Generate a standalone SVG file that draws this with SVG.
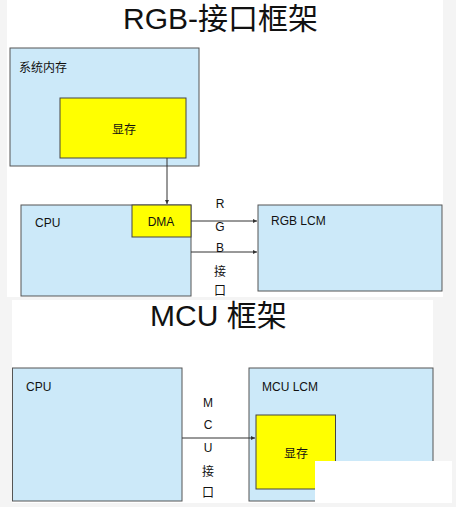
<svg xmlns="http://www.w3.org/2000/svg" width="456" height="507" viewBox="0 0 456 507">
<defs>
<marker id="ah" viewBox="0 0 6 6" refX="6" refY="3" markerWidth="4" markerHeight="4" orient="auto" markerUnits="userSpaceOnUse">
<path d="M0,0 L6,3 L0,6 z" fill="#333"/>
</marker>
<style>
.box{fill:#cce9f9;stroke:#555;stroke-width:1}
.mem{fill:#ffff00;stroke:#444;stroke-width:1}
.t{font-family:"Liberation Sans","Noto Sans CJK SC",sans-serif;font-size:12px;fill:#111}
.title{font-family:"Liberation Sans","Noto Sans CJK SC",sans-serif;font-size:30px;fill:#111}
.c{text-anchor:middle}
.ln{stroke:#333;stroke-width:1;fill:none;marker-end:url(#ah)}
</style>
</defs>
<rect x="0" y="0" width="456" height="507" fill="#f4f4f4"/>
<rect x="7" y="0" width="436" height="297" fill="#ffffff"/>
<rect x="12" y="300" width="421" height="203" fill="#ffffff"/>

<text class="title" x="123" y="29">RGB-接口框架</text>
<text class="title" x="150" y="326">MCU 框架</text>

<g id="sysmem">
<rect class="box" x="10" y="48" width="189" height="118"/>
<text class="t" x="19" y="72">系统内存</text>
</g>
<g id="vram1">
<rect class="mem" x="60" y="98" width="126" height="60"/>
<text class="t c" x="124" y="134">显存</text>
</g>
<g id="cpu1">
<rect class="box" x="21" y="205" width="170" height="91"/>
<text class="t" x="35" y="227">CPU</text>
</g>
<g id="dma">
<rect class="mem" x="132" y="205" width="59" height="32"/>
<text class="t c" x="161" y="226">DMA</text>
</g>
<g id="rgblcm">
<rect class="box" x="258" y="205" width="184" height="86"/>
<text class="t" x="271" y="225">RGB LCM</text>
</g>
<g id="cpu2">
<rect class="box" x="12.5" y="368" width="169.5" height="133"/>
<text class="t" x="26" y="391">CPU</text>
</g>
<g id="mculcm">
<rect class="box" x="249" y="368" width="184" height="133"/>
<text class="t" x="262" y="391">MCU LCM</text>
</g>
<g id="vram2">
<rect class="mem" x="256" y="415" width="79.5" height="74"/>
<text class="t c" x="296" y="458">显存</text>
</g>

<g id="connectors">
<line class="ln" x1="167" y1="158" x2="167" y2="204"/>
<line class="ln" x1="191" y1="221" x2="257" y2="221"/>
<line class="ln" x1="191" y1="252" x2="257" y2="252"/>
<line class="ln" x1="182" y1="438" x2="255" y2="438"/>
<text class="t c" x="220" y="208">R</text>
<text class="t c" x="220" y="231">G</text>
<text class="t c" x="220" y="252">B</text>
<text class="t c" x="220" y="276">接</text>
<text class="t c" x="220" y="295">口</text>
<text class="t c" x="208" y="407">M</text>
<text class="t c" x="208" y="429">C</text>
<text class="t c" x="208" y="452">U</text>
<text class="t c" x="208" y="476">接</text>
<text class="t c" x="208" y="497">口</text>
</g>

<rect x="315" y="461" width="137" height="42" fill="#ffffff"/>
</svg>
